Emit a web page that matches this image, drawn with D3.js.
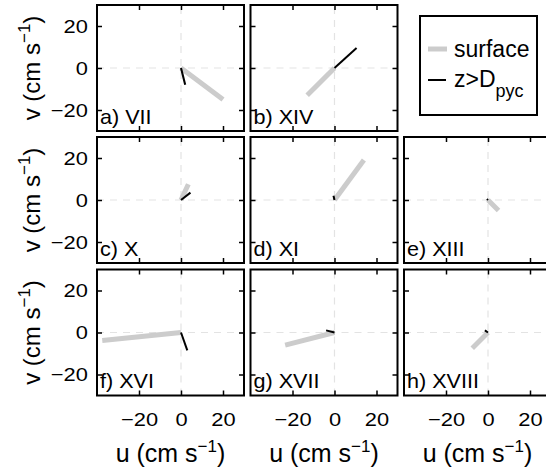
<!DOCTYPE html>
<html>
<head>
<meta charset="utf-8">
<script src="https://cdn.jsdelivr.net/npm/d3@7"></script>
<style>
  html, body { margin: 0; padding: 0; background: #fff; }
  svg { display: block; font-family: "Liberation Sans", Arial, Helvetica, sans-serif; }
</style>
</head>
<body>
<div id="chart"></div>
<script>
/* Surface vs. deep velocity vectors, one small panel per event. */

var panelLabels = ['a) VII', 'b) XIV', 'c) X', 'd) XI', 'e) XIII', 'f) XVI', 'g) XVII', 'h) XVIII'];
var panelRow = [0, 0, 1, 1, 1, 2, 2, 2];
var panelCol = [0, 1, 0, 1, 2, 0, 1, 2];

// end points of the vectors (cm/s), all drawn from the origin
var surfU = [20, -13, 3.5, 14, 5, -37.5, -23.5, -7.5];
var surfV = [-15, -13, 7.5, 19, -5, -3.8, -6, -7.5];
var deepU = [2, 10.5, 4.5, -0.5, -0.5, 3, -4, -1.5];
var deepV = [-8, 9.5, 3.5, 2, 0.5, -8.5, 1, 1];

var xDomain = [-40, 30];
var yDomain = [-30, 30];
var xTicks = [-20, 0, 20];
var yTicks = [-20, 0, 20];

var legendNames = ['surface', 'z>D'];

var W = 546, H = 473;
var colLeft = [97, 250.5, 404];
var rowTop = [5, 137, 269.5];
var PW = 147, PH = 126;
var SURF_COLOR = '#cccccc';

var svg = d3.select('#chart').append('svg')
  .attr('width', W)
  .attr('height', H);

var x = d3.scaleLinear().domain(xDomain).range([0, PW]);
var y = d3.scaleLinear().domain(yDomain).range([PH, 0]);

function styleAxis(g) {
  g.select('.domain').remove();
  g.selectAll('.tick line').attr('stroke', '#000').attr('stroke-width', 1.5);
  g.selectAll('.tick text')
    .attr('fill', '#000')
    .attr('transform', 'scale(1.15,1)')
    .style('font-size', '19px');
}

panelLabels.forEach(function(label, i) {
  var r = panelRow[i], c = panelCol[i];
  var g = svg.append('g')
    .attr('transform', 'translate(' + colLeft[c] + ',' + rowTop[r] + ')');

  // zero lines
  g.append('line')
    .attr('x1', x(xDomain[0])).attr('x2', x(xDomain[1]))
    .attr('y1', y(0)).attr('y2', y(0))
    .attr('stroke', '#e3e3e3').attr('stroke-width', 1.2)
    .attr('stroke-dasharray', '7,6');
  g.append('line')
    .attr('x1', x(0)).attr('x2', x(0))
    .attr('y1', y(yDomain[0])).attr('y2', y(yDomain[1]))
    .attr('stroke', '#e3e3e3').attr('stroke-width', 1.2)
    .attr('stroke-dasharray', '7,6');

  g.append('line')
    .attr('x1', x(0)).attr('y1', y(0))
    .attr('x2', x(surfU[i])).attr('y2', y(surfV[i]))
    .attr('stroke', SURF_COLOR).attr('stroke-width', 5);
  g.append('line')
    .attr('x1', x(0)).attr('y1', y(0))
    .attr('x2', x(deepU[i])).attr('y2', y(deepV[i]))
    .attr('stroke', '#000').attr('stroke-width', 2);

  // inward ticks on all four sides
  var bottomLabels = (r === 2);
  var leftLabels = (c === 0);

  g.append('g')
    .attr('transform', 'translate(0,' + PH + ')')
    .call(d3.axisBottom(x).tickValues(xTicks).tickSizeInner(-5).tickSizeOuter(0)
      .tickPadding(17).tickFormat(bottomLabels ? d3.format('d') : ''))
    .call(styleAxis);
  g.append('g')
    .call(d3.axisTop(x).tickValues(xTicks).tickSizeInner(-5).tickSizeOuter(0).tickFormat(''))
    .call(styleAxis);
  g.append('g')
    .call(d3.axisLeft(y).tickValues(yTicks).tickSizeInner(-5).tickSizeOuter(0)
      .tickPadding(8).tickFormat(leftLabels ? d3.format('d') : ''))
    .call(styleAxis);
  g.append('g')
    .attr('transform', 'translate(' + PW + ',0)')
    .call(d3.axisRight(y).tickValues(yTicks).tickSizeInner(-5).tickSizeOuter(0).tickFormat(''))
    .call(styleAxis);

  g.append('rect')
    .attr('width', PW).attr('height', PH)
    .attr('fill', 'none').attr('stroke', '#000').attr('stroke-width', 2);

  g.append('text')
    .attr('x', 3).attr('y', PH - 7)
    .attr('transform', 'translate(3,0) scale(1.08,1) translate(-3,0)')
    .style('font-size', '20px')
    .text(label);
});

/* axis titles */
function unitLabel(sel, name) {
  sel.append('tspan').text(name + ' (cm s');
  sel.append('tspan').attr('dy', -10).style('font-size', '17px').text('\u22121');
  sel.append('tspan').attr('dy', 10).text(')');
}

rowTop.forEach(function(t) {
  var yc = t + PH / 2;
  svg.append('text')
    .attr('transform', 'translate(40,' + yc + ') rotate(-90)')
    .attr('text-anchor', 'middle')
    .style('font-size', '24px')
    .call(unitLabel, 'v');
});

colLeft.forEach(function(l) {
  svg.append('text')
    .attr('x', l + PW / 2).attr('y', 462)
    .attr('text-anchor', 'middle')
    .style('font-size', '25px')
    .call(unitLabel, 'u');
});

/* legend */
var lg = svg.append('g').attr('transform', 'translate(420,16)');
lg.append('rect')
  .attr('width', 117).attr('height', 99)
  .attr('fill', '#fff').attr('stroke', '#000').attr('stroke-width', 2);
lg.append('line')
  .attr('x1', 8).attr('x2', 27).attr('y1', 33).attr('y2', 33)
  .attr('stroke', SURF_COLOR).attr('stroke-width', 5);
lg.append('line')
  .attr('x1', 8).attr('x2', 26).attr('y1', 64).attr('y2', 64)
  .attr('stroke', '#000').attr('stroke-width', 2);
lg.append('text')
  .attr('x', 34).attr('y', 41)
  .style('font-size', '23px')
  .text(legendNames[0]);
var t2 = lg.append('text')
  .attr('x', 34).attr('y', 71)
  .style('font-size', '23px');
t2.append('tspan').text(legendNames[1]);
t2.append('tspan').attr('dy', 10).style('font-size', '18px').text('pyc');
</script>
</body>
</html>
